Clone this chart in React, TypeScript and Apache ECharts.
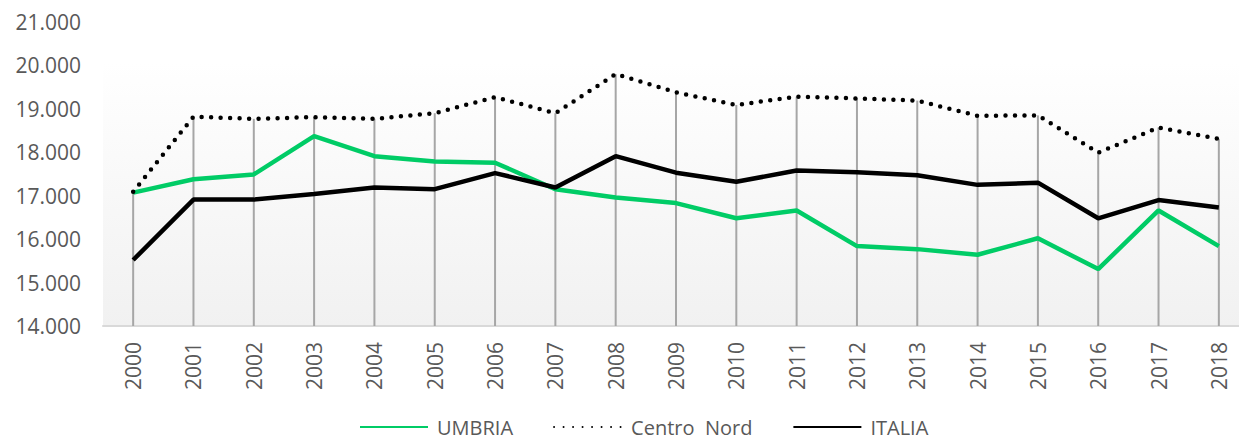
import React, { useEffect, useRef } from "react";
import * as echarts from "echarts";

const years = ["2000","2001","2002","2003","2004","2005","2006","2007","2008","2009","2010","2011","2012","2013","2014","2015","2016","2017","2018"];
const umbria = [17070,17380,17490,18370,17910,17790,17760,17150,16960,16830,16480,16660,15840,15770,15640,16020,15310,16660,15840];
const centroNord = [17090,18820,18770,18810,18770,18900,19270,18900,19800,19380,19090,19280,19240,19190,18840,18850,17990,18570,18310];
const italia = [15520,16910,16910,17040,17190,17150,17520,17190,17910,17530,17320,17580,17540,17470,17250,17300,16480,16900,16730];
const yMin = 14000;
const yMax = 21000;
const yStep = 1000;
const legendNames = ["UMBRIA", "Centro  Nord", "ITALIA"];

const FONT = "'Open Sans', 'Noto Sans', sans-serif";
const TEXT = "#595959";

export default function App() {
  const ref = useRef<HTMLDivElement>(null);
  useEffect(() => {
    if (!ref.current) return;
    const chart = echarts.init(ref.current, null, { renderer: "svg" });
    const dropData = years.map((_, i) => [i, Math.max(umbria[i], centroNord[i], italia[i])]);
    chart.setOption({
      animation: false,
      textStyle: { fontFamily: FONT },
      legend: {
        data: legendNames,
        left: 359,
        top: 417,
        padding: 0,
        itemWidth: 68,
        itemHeight: 4,
        itemGap: 40,
        itemStyle: { opacity: 0 },
        textStyle: { color: TEXT, fontSize: 20, fontFamily: FONT, lineHeight: 17, padding: [0, 0, 0, 4] },
      },
      grid: {
        left: 103,
        top: 22,
        width: 1146,
        height: 304,
        outerBoundsMode: "none",
        containLabel: false,
        show: true,
        borderWidth: 0,
        backgroundColor: new echarts.graphic.LinearGradient(0, 0, 0, 1, [
          { offset: 0, color: "#ffffff" },
          { offset: 0.13, color: "#ffffff" },
          { offset: 1, color: "#f1f1f1" },
        ]),
      },
      xAxis: {
        type: "category",
        data: years,
        boundaryGap: true,
        axisLine: { show: true, lineStyle: { color: "#d9d9d9", width: 2 } },
        axisTick: { show: false },
        axisLabel: {
          rotate: 90,
          color: TEXT,
          fontSize: 21,
          fontFamily: FONT,
          margin: 16,
          interval: 0,
        },
        splitLine: { show: false },
      },
      yAxis: {
        type: "value",
        min: yMin,
        max: yMax,
        interval: yStep,
        axisLine: { show: false },
        axisTick: { show: false },
        splitLine: { show: false },
        axisLabel: {
          color: TEXT,
          fontSize: 21,
          fontFamily: FONT,
          margin: 22,
          formatter: (v: number) => (v / 1000).toFixed(3),
        },
      },
      series: [
        {
          type: "custom",
          name: "drop",
          z: 1,
          silent: true,
          data: dropData,
          renderItem: (params: any, api: any) => {
            const top = api.coord([api.value(0), api.value(1)]);
            const bottom = api.coord([api.value(0), yMin]);
            return {
              type: "line",
              shape: { x1: top[0], y1: top[1], x2: bottom[0], y2: bottom[1] },
              style: { stroke: "#a6a6a6", lineWidth: 2 },
            };
          },
        },
        {
          type: "line",
          name: "UMBRIA",
          data: umbria,
          z: 3,
          symbol: "none",
          lineStyle: { color: "#00cc66", width: 4.5 },
          itemStyle: { color: "#00cc66" },
        },
        {
          type: "line",
          name: "Centro  Nord",
          data: centroNord,
          z: 3,
          symbol: "none",
          lineStyle: { color: "#000000", width: 4.5, type: [0, 9.5], cap: "round" },
          itemStyle: { color: "#000000" },
        },
        {
          type: "line",
          name: "ITALIA",
          data: italia,
          z: 3,
          symbol: "none",
          lineStyle: { color: "#000000", width: 4.5 },
          itemStyle: { color: "#000000" },
        },
      ],
    });
    return () => chart.dispose();
  }, []);
  return <div ref={ref} style={{ width: 1239, height: 441, position: "absolute", left: 0, top: 0 }} />;
}
